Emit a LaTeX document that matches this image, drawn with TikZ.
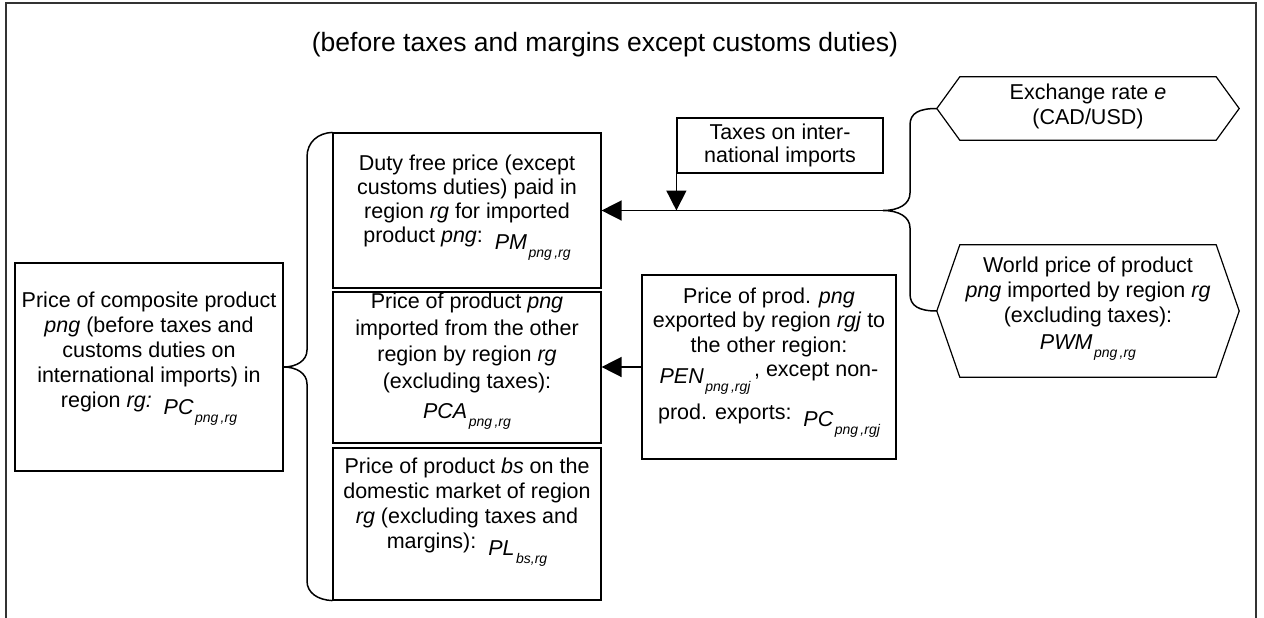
\documentclass[tikz,border=0pt]{standalone}
\usepackage{fontspec}
\setmainfont{Liberation Sans}
\usetikzlibrary{arrows.meta}

% body text with a chosen line distance, and the title size
\newcommand\bodyset[1]{\fontsize{21.5pt}{#1}\selectfont}
\newcommand\titlesize{\fontsize{26.5pt}{30pt}\selectfont}
% variable with subscript, set lower than the running text
\newcommand\lowvar[2]{\raisebox{-7pt}{\itshape #1\kern1.5pt\raisebox{-8pt}{\fontsize{14pt}{14pt}\selectfont #2}}}
% variable with subscript standing on its own line
\newcommand\linevar[2]{{\itshape #1\kern1.5pt\raisebox{-8pt}{\fontsize{14pt}{14pt}\selectfont #2}}}
% extra depth on a last line, to place a text block inside its box
\newcommand\dropto[1]{\rule[-#1]{0pt}{0pt}}

\tikzset{
  box/.style={draw, line width=1.2pt, inner sep=0pt, align=center, font={\bodyset{25pt}}},
  hexbox/.style={inner sep=0pt, align=center, font={\bodyset{25pt}}},
  hexline/.style={line width=1.2pt, line join=miter},
  conn/.style={line width=1.5pt},
  arrowline/.style={line width=1.5pt, -{Triangle[length=20pt,width=20pt]}},
  frame/.style={line width=1.8pt, draw=black!80},
}

\begin{document}
\begin{tikzpicture}[x=1pt,y=-1pt]
\useasboundingbox (0,0) rectangle (1264,618);

% outer frame, open at the bottom
\draw[frame] (6,618) -- (6,3) -- (1256,3) -- (1256,618);

\node[font=\titlesize, anchor=base] (title) at (605,52)
  {(before taxes and margins except customs duties)};

% composite price
\node[box, minimum width=268pt, minimum height=208pt] (left) at (149,367)
  {Price of composite product\\
   \textit{png} (before taxes and\\
   customs duties on\\
   international imports) in\\
   region \textit{rg:}~~\lowvar{PC}{png\,,rg}\dropto{35pt}};

% the three component prices
\node[box, font={\bodyset{24pt}}, minimum width=268pt, minimum height=155pt] (box1) at (467,210.5)
  {Duty free price (except\\
   customs duties) paid in\\
   region \textit{rg} for imported\\
   product \textit{png}:~~\lowvar{PM}{png\,,rg}\dropto{24pt}};

\node[box, font={\bodyset{26.5pt}}, minimum width=268pt, minimum height=151pt] (box2) at (467,367.5)
  {Price of product \textit{png}\\
   imported from the other\\
   region by region \textit{rg}\\
   (excluding taxes):\\[3.5pt]
   \linevar{PCA}{png\,,rg}\dropto{24pt}};

\node[box, minimum width=268pt, minimum height=152pt] (box3) at (467,524)
  {Price of product \textit{bs} on the\\
   domestic market of region\\
   \textit{rg} (excluding taxes and\\
   margins):~~\lowvar{PL}{bs,rg}\dropto{42pt}};

\node[box, font={\bodyset{23pt}}, minimum width=206pt, minimum height=55pt] (taxes) at (780,145.5)
  {Taxes on inter-\\national imports};

\node[box, font={\bodyset{24.5pt}}, minimum width=254pt, minimum height=184pt] (pen) at (769,367)
  {Price of prod. \textit{png}\\
   exported by region \textit{rgj} to\\
   the other region:\\
   \lowvar{PEN}{png\,,rgj}\,, except non-\\[8pt]
   prod. exports:~~\lowvar{PC}{png\,,rgj}\dropto{27pt}};

% hexagonal inputs
\node[hexbox, minimum width=302pt, minimum height=63pt] (ex) at (1088,108.5)
  {Exchange rate \textit{e}\\(CAD/USD)\dropto{8pt}};
\draw[hexline] (ex.west) -- ([xshift=23pt]ex.north west) -- ([xshift=-23pt]ex.north east)
  -- (ex.east) -- ([xshift=-23pt]ex.south east) -- ([xshift=23pt]ex.south west) -- cycle;

\node[hexbox, minimum width=302pt, minimum height=132pt] (wpm) at (1088,311)
  {World price of product\\
   \textit{png} imported by region \textit{rg}\\
   (excluding taxes):\\[2pt]
   \linevar{PWM}{png\,,rg}\dropto{16pt}};
\draw[hexline] (wpm.west) -- ([xshift=23pt]wpm.north west) -- ([xshift=-23pt]wpm.north east)
  -- (wpm.east) -- ([xshift=-23pt]wpm.south east) -- ([xshift=23pt]wpm.south west) -- cycle;

% brace gathering the three component prices
\draw[conn] (box1.north west) .. controls (318,133) and (307,142) .. (307,157)
  -- (307,350) .. controls (307,361) and (296,367) .. (left.east)
  .. controls (296,367) and (307,373) .. (307,384)
  -- (307,581) .. controls (307,593) and (318,600) .. (box3.south west);

% brace joining the exchange rate and the world price
\coordinate (fork) at (883,210.5);
\draw[conn] (ex.west) .. controls (919,108.5) and (910,113) .. (910,125)
  -- (910,193) .. controls (910,204) and (899,210.5) .. (fork)
  .. controls (899,210.5) and (910,217) .. (910,228)
  -- (910,294) .. controls (910,306) and (919,311) .. (wpm.west);

\draw[arrowline] (fork) -- (box1.east);
\draw[arrowline] (taxes.south west) -- (taxes.south west |- fork);
\draw[arrowline] (pen.west) -- (box2.east |- pen.west);

\end{tikzpicture}
\end{document}
